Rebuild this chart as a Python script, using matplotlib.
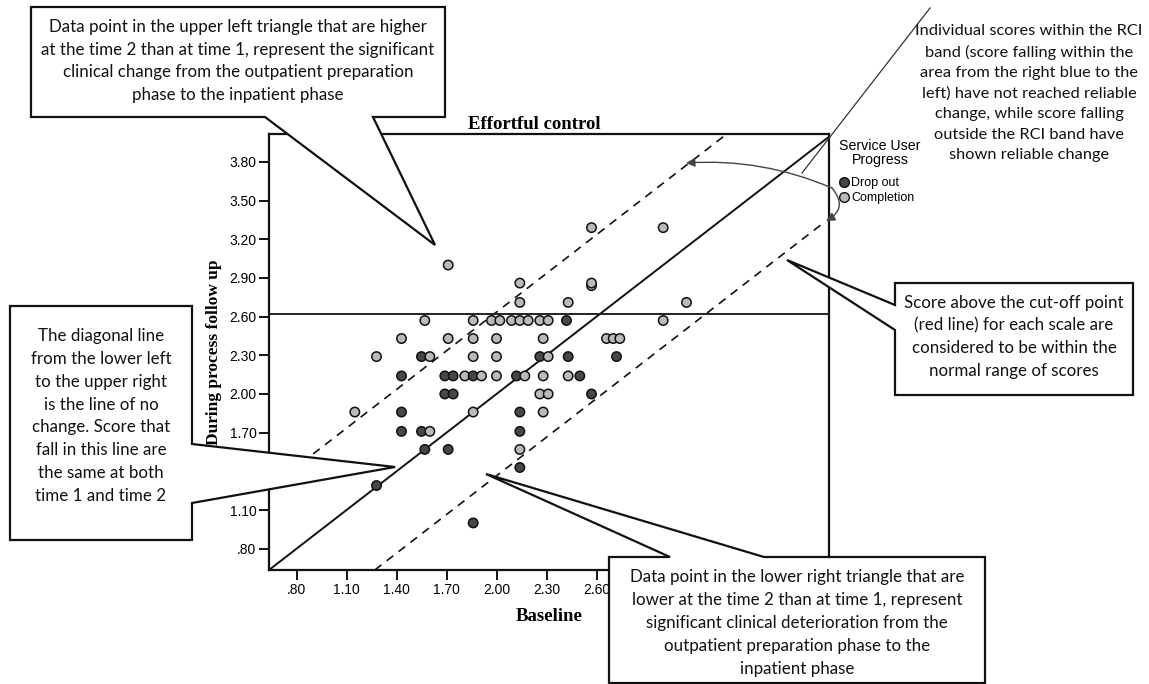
import matplotlib
matplotlib.use('Agg')
import matplotlib.pyplot as plt
from matplotlib.patches import Polygon, FancyArrowPatch
from matplotlib.lines import Line2D
from matplotlib.ticker import FuncFormatter

W, H = 1149, 684

# Baseline (x) vs during process follow up (y)
dropout_x = [2.42, 1.55, 2.26, 2.43, 2.72,
             1.43, 1.69, 1.74, 1.86, 2.12, 2.50,
             1.69, 1.74, 2.57,
             1.43, 2.14,
             1.43, 1.55, 2.14,
             1.57, 1.71,
             2.14, 1.28, 1.86]
dropout_y = [2.57, 2.29, 2.29, 2.29, 2.29,
             2.14, 2.14, 2.14, 2.14, 2.14, 2.14,
             2.00, 2.00, 2.00,
             1.86, 1.86,
             1.71, 1.71, 1.71,
             1.57, 1.57,
             1.43, 1.29, 1.00]

completion_x = [2.57, 3.00,
                1.71,
                2.14, 2.57, 2.57,
                2.14, 2.43, 3.14,
                1.57, 1.86, 1.97, 2.02, 2.09, 2.14, 2.19, 2.26, 2.31, 3.00,
                1.43, 1.71, 1.86, 2.00, 2.28, 2.66, 2.70, 2.74,
                1.28, 1.60, 1.86, 2.00, 2.31,
                1.81, 1.91, 2.00, 2.17, 2.28, 2.43,
                2.26, 2.31,
                1.15, 1.86, 2.28,
                1.60,
                2.14]
completion_y = [3.29, 3.29,
                3.00,
                2.86, 2.86, 2.84,
                2.71, 2.71, 2.71,
                2.57, 2.57, 2.57, 2.57, 2.57, 2.57, 2.57, 2.57, 2.57, 2.57,
                2.43, 2.43, 2.43, 2.43, 2.43, 2.43, 2.43, 2.43,
                2.29, 2.29, 2.29, 2.29, 2.29,
                2.14, 2.14, 2.14, 2.14, 2.14, 2.14,
                2.00, 2.00,
                1.86, 1.86, 1.86,
                1.71,
                1.57]

# x ticks past 2.60 sit under the lower callout box
x_ticks = [0.80, 1.10, 1.40, 1.70, 2.00, 2.30, 2.60]
y_ticks = [0.80, 1.10, 1.40, 1.70, 2.00, 2.30, 2.60, 2.90, 3.20, 3.50, 3.80]
cutoff = 2.62          # normal range cut-off
rci = 0.635            # half width of the RCI band
upper_band_x = [0.90, 3.385]
lower_band_x = [1.27, 3.95]

dark = '#474747'
light = '#bababa'

fig = plt.figure(figsize=(W / 100, H / 100), dpi=100)
ax = fig.add_axes([269 / W, 1 - 570 / H, 560 / W, 436.5 / H])


def fpt(x, y):
    # pixel position in the picture -> figure fraction
    return (x / W, 1 - y / H)


# points, drawn left to right so the overlaps stack like the original
pts = [(x, y, dark) for x, y in zip(dropout_x, dropout_y)]
pts += [(x, y, light) for x, y in zip(completion_x, completion_y)]
pts.sort(key=lambda p: (p[0], p[1]))
ax.scatter([p[0] for p in pts], [p[1] for p in pts], c=[p[2] for p in pts],
           s=46, edgecolors='#111111', linewidths=1.1, zorder=4)

# line of no change, RCI band and cut-off
ax.plot([0.635, 4.02], [0.635, 4.02], color='#111111', lw=1.4, zorder=3)
ax.plot(upper_band_x, [v + rci for v in upper_band_x], color='#111111', lw=1.2,
        ls=(0, (5, 4)), zorder=3)
ax.plot(lower_band_x, [v - rci for v in lower_band_x], color='#111111', lw=1.2,
        ls=(0, (5, 4)), zorder=3)
ax.axhline(cutoff, color='#222222', lw=1.4, zorder=3)

ax.set_xlim(0.635, 3.995)
ax.set_ylim(0.635, 4.02)
fmt = FuncFormatter(lambda v, p: f'{v:.2f}'.lstrip('0'))
ax.set_xticks(x_ticks)
ax.set_yticks(y_ticks)
ax.xaxis.set_major_formatter(fmt)
ax.yaxis.set_major_formatter(fmt)
ax.tick_params(length=7, width=1.3, labelsize=10, pad=2, direction='out')
for lab in ax.get_xticklabels() + ax.get_yticklabels():
    lab.set_family('Liberation Sans')
for sp in ax.spines.values():
    sp.set_linewidth(1.6)
    sp.set_color('#111111')

serif = dict(family='Liberation Serif', fontweight='bold')
ax.set_title('Effortful control', x=(534 - 269) / 560, pad=3, fontsize=13.5, **serif)
ax.set_xlabel('Baseline', labelpad=8, fontsize=13.5, **serif)
ax.set_ylabel('During process follow up', labelpad=5, fontsize=12.5, **serif)

# legend
fig.text(*fpt(880, 153), 'Service User\nProgress', ha='center', va='center',
         family='Liberation Sans', fontsize=10.2, linespacing=0.95)
handles = [Line2D([], [], ls='none', marker='o', ms=7, mfc=dark, mec='#111111', mew=1),
           Line2D([], [], ls='none', marker='o', ms=7, mfc=light, mec='#111111', mew=1)]
ax.legend(handles, ['Drop out', 'Completion'], loc='upper left',
          bbox_to_anchor=fpt(838, 177), bbox_transform=fig.transFigure, frameon=False,
          prop={'family': 'Liberation Sans', 'size': 9},
          handletextpad=0.05, handlelength=1.0, labelspacing=0.25,
          borderpad=0, borderaxespad=0)

# callout boxes
note_font = dict(family='Lato', fontsize=12.2, linespacing=1.52, color='#111111')


def callout(corners, text, cx, cy):
    poly = Polygon([fpt(*c) for c in corners], closed=True, transform=fig.transFigure,
                   facecolor='white', edgecolor='#111111', lw=1.6, zorder=10)
    fig.add_artist(poly)
    fig.text(*fpt(cx, cy), text, ha='center', va='center', zorder=11, **note_font)


callout([(31, 7), (445, 7), (445, 117), (373, 117), (435, 245), (265, 117), (31, 117)],
        'Data point in the upper left triangle that are higher\n'
        'at the time 2 than at time 1, represent the significant\n'
        'clinical change from the outpatient preparation\n'
        'phase to the inpatient phase', 238, 61)

callout([(10, 306), (192, 306), (192, 444), (395, 467), (192, 503), (192, 540), (10, 540)],
        'The diagonal line\nfrom the lower left\nto the upper right\nis the line of no\n'
        'change. Score that\nfall in this line are\nthe same at both\ntime 1 and time 2',
        101, 416)

callout([(895, 283), (1133, 283), (1133, 395), (895, 395), (895, 330), (787, 260), (895, 305)],
        'Score above the cut-off point\n(red line) for each scale are\n'
        'considered to be within the\nnormal range of scores', 1014, 337)

callout([(609, 557), (670, 557), (486, 474), (764, 557), (985, 557), (985, 683), (609, 683)],
        'Data point in the lower right triangle that are\n'
        'lower at the time 2 than at time 1, represent\n'
        'significant clinical deterioration from the\n'
        'outpatient preparation phase to the\ninpatient phase', 797, 623)

rci_note = dict(note_font, fontsize=11.8, linespacing=1.57)
fig.text(*fpt(1029, 93),
         'Individual scores within the RCI\nband (score falling within the\n'
         'area from the right blue to the\nleft) have not reached reliable\n'
         'change, while score falling\noutside the RCI band have\nshown reliable change',
         ha='center', va='center', zorder=11, **rci_note)

# pointer from the RCI note and the curved arrows to both band edges
fig.add_artist(Line2D([fpt(930, 8)[0], fpt(802, 173)[0]],
                      [fpt(930, 8)[1], fpt(802, 173)[1]],
                      transform=fig.transFigure, color='#333333', lw=0.9, zorder=12))
for end, rad in [((686, 163), 0.12), ((826, 221), -0.6)]:
    fig.add_artist(FancyArrowPatch(fpt(832, 188), fpt(*end), transform=fig.transFigure,
                                   connectionstyle=f'arc3,rad={rad}', arrowstyle='-|>',
                                   mutation_scale=13, color='#444444', lw=1.0,
                                   shrinkA=0, shrinkB=0, zorder=12))

fig.savefig('out.png', dpi=100)
